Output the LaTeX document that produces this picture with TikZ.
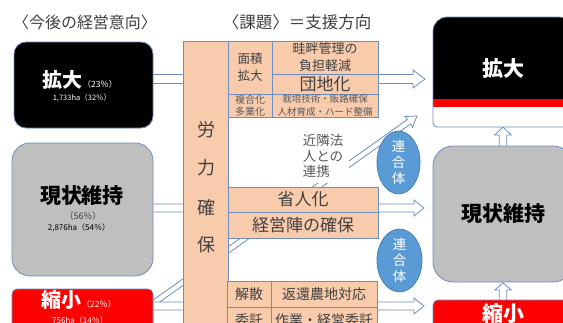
\documentclass[tikz,border=0pt]{standalone}
\usepackage{fontspec}
\setmainfont{Noto Sans CJK JP}
\usetikzlibrary{calc,shapes.geometric}
\definecolor{bcol}{RGB}{109,142,190}
\definecolor{orng}{HTML}{F8CBAD}
\definecolor{gry}{HTML}{BFBFBF}
\definecolor{circ}{HTML}{5B9BD5}
\definecolor{circb}{HTML}{4A7EBB}
\definecolor{txt}{HTML}{404040}
\definecolor{txtl}{HTML}{595959}
\newcommand\blockarrow[5]{%
  \path ($(#2)!#5!(#1)$) coordinate (ba-b);
  \draw[harrow] ($(#1)!#3!90:(#2)$) -- ($(ba-b)!#3!-90:(#1)$) -- ($(ba-b)!#4!-90:(#1)$) -- (#2)
     -- ($(ba-b)!#4!90:(#1)$) -- ($(ba-b)!#3!90:(#1)$) -- ($(#1)!#3!-90:(#2)$) -- cycle;}
\newcommand\fs[2]{\fontsize{#1}{#2}\selectfont}
\begin{document}
\begin{tikzpicture}[x=1pt,y=-1pt,
  harrow/.style={draw=bcol,fill=white,line width=0.8pt,line join=miter},
  box/.style={draw=bcol,line width=0.8pt,rectangle,inner sep=0pt},
  cell/.style={draw=bcol,fill=orng,rectangle,inner sep=0pt,text=txt,align=center,line width=0.8pt},
  lbl/.style={inner sep=0pt,align=center},
  blob/.style={ellipse,draw=circb,fill=circ,line width=0.8pt,inner sep=0pt,text=white,align=center,font=\fs{13.5}{16}}]
\useasboundingbox (0,0) rectangle (563,322);
\clip (0,0) rectangle (563,322);
% titles
\node[lbl,text=txt,font=\fs{16}{18}] (t1) at (85,22) {〈今後の経営意向〉};
\node[lbl,text=txt,font=\fs{16.5}{18}] (t2) at (297,22) {〈課題〉＝支援方向};
% arrows (behind)
\coordinate (ds) at (141,312); \coordinate (dt) at (417,116);
\blockarrow{ds}{dt}{2.7pt}{6.5pt}{10pt}
\coordinate (a1s) at (140,79); \coordinate (a1t) at (425,79);
\blockarrow{a1s}{a1t}{4.5pt}{9pt}{12pt}
\coordinate (a2s) at (140,208); \coordinate (a2t) at (424,208);
\blockarrow{a2s}{a2t}{4pt}{8pt}{10pt}
\coordinate (a3s) at (140,306); \coordinate (a3t) at (424,306);
\blockarrow{a3s}{a3t}{4pt}{8pt}{10pt}
\coordinate (u1s) at (503,150); \coordinate (u1t) at (503,127);
\blockarrow{u1s}{u1t}{3.8pt}{8.3pt}{8pt}
\coordinate (u2s) at (503,304); \coordinate (u2t) at (503,283);
\blockarrow{u2s}{u2t}{3.8pt}{8.3pt}{7pt}
% left boxes
\node[box,fill=black,rounded corners=12pt,minimum width=139pt,minimum height=86pt] (L1) at (83.5,85) {};
\node[lbl,text=white] (L1a) at (80,80) {{\fs{20}{24}\bfseries 拡大}{\fs{8.5}{10}（23％）}};
\node[lbl,text=white,font=\fs{7.5}{9}] (L1b) at (82,98) {1,733ha（32％）};
\node[box,fill=gry,rounded corners=18pt,minimum width=141pt,minimum height=133pt] (L2) at (82.5,209.5) {};
\node[lbl,text=black,font=\fs{21}{24}\bfseries] (L2a) at (82,196) {現状維持};
\node[lbl,text=txt,font=\fs{9}{11}] (L2b) at (83,216) {（56％）};
\node[lbl,text=black,font=\fs{8}{10}] (L2c) at (79,228) {2,876ha（54％）};
\node[box,fill=red,rounded corners=5pt,minimum width=141pt,minimum height=50pt] (L3) at (82.5,314) {};
\node[lbl,text=white] (L3a) at (79,300) {{\fs{20}{24}\bfseries 縮小}{\fs{8.5}{10}（22％）}};
\node[lbl,text=white,font=\fs{8}{10}] (L3b) at (80,320) {756ha（14％）};
% column
\node[box,fill=orng,minimum width=45pt,minimum height=300pt] (C) at (205.5,191) {};
\foreach \ch/\yy/\nm in {労/130/c1,力/168/c2,確/208/c3,保/245/c4}
  \node[lbl,text=txt,font=\fs{18}{20}] (\nm) at (206,\yy) {\ch};
% grid top
\node[cell,minimum width=44pt,minimum height=53pt,font=\fs{12.5}{17}] (G1) at (250,67.5) {面積\\拡大};
\node[cell,minimum width=106pt,minimum height=33pt,font=\fs{13}{17}] (G2) at (325,57.5) {畦畔管理の\\負担軽減};
\node[cell,minimum width=106pt,minimum height=20pt,font=\fs{17}{20}] (G3) at (325,84) {団地化};
\node[cell,minimum width=44pt,minimum height=23pt,font=\fs{10}{12.5},text=txtl] (G4) at (250,105.5) {複合化\\多業化};
\node[cell,minimum width=106pt,minimum height=23pt,font=\fs{9.5}{12.5},text=txtl] (G5) at (325,105.5) {栽培技術・販路確保\\人材育成・ハード整備};
% middle
\node[lbl,fill=white,inner sep=0pt,minimum width=52pt,minimum height=54pt,align=left,text=txtl,font=\fs{13.5}{15.5}] (T) at (323,156) {近隣法\\人との\\連携};
\node[cell,minimum width=150pt,minimum height=25pt,font=\fs{17}{20}] (G6) at (303,199.5) {省人化};
\node[cell,minimum width=150pt,minimum height=26pt,font=\fs{17}{20}] (G7) at (303,225) {経営陣の確保};
% bottom
\node[cell,minimum width=44pt,minimum height=26pt,font=\fs{14}{16}] (G8) at (249,294) {解散};
\node[cell,minimum width=106pt,minimum height=26pt,font=\fs{14}{16}] (G9) at (324,294) {返還農地対応};
\node[cell,minimum width=44pt,minimum height=26pt,font=\fs{14}{16}] (G10) at (249,320) {委託};
\node[cell,minimum width=106pt,minimum height=26pt,font=\fs{14}{16}] (G11) at (324,320) {作業・経営委託};
% circles
\node[blob,minimum width=43pt,minimum height=49pt] (E1) at (398.5,162.5) {連\\合\\体};
\node[blob,minimum width=45pt,minimum height=48pt] (E2) at (399.5,260.5) {連\\合\\体};
% right boxes
\begin{scope}
\clip[rounded corners=14pt] (433,72) -- (433,17) -- (573,17) -- (573,72) [rounded corners=4pt] -- (573,127) -- (433,127) -- cycle;
\fill[black] (433,17) rectangle (573,99);
\fill[red] (433,99) rectangle (573,107);
\fill[white] (433,107) rectangle (573,127);
\end{scope}
\draw[bcol,line width=0.8pt,rounded corners=14pt] (433,72) -- (433,17) -- (573,17) -- (573,72) [rounded corners=4pt] -- (573,127) -- (433,127) -- cycle;
\node[lbl,text=white,font=\fs{21}{24}\bfseries] (R1a) at (503,68) {拡大};
\node[box,fill=gry,rounded corners=20pt,minimum width=140pt,minimum height=136pt,font=\fs{21}{24}\bfseries] (R2) at (503,214) {現状維持};
\node[box,fill=red,rounded corners=5pt,minimum width=140pt,minimum height=40pt] (R3) at (503,320) {};
\node[lbl,text=white,font=\fs{21}{24}\bfseries] (R3a) at (503,313) {縮小};
\end{tikzpicture}
\end{document}
